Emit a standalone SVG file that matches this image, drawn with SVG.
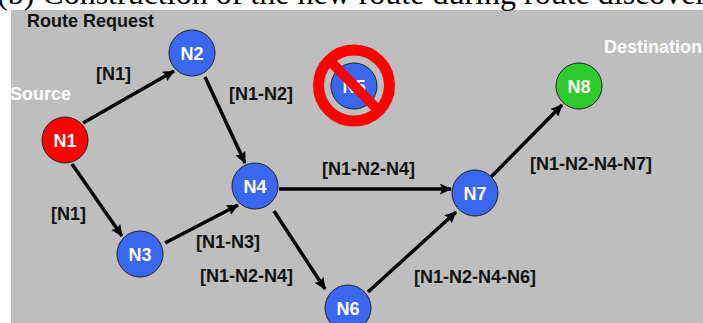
<svg xmlns="http://www.w3.org/2000/svg" width="703" height="323" viewBox="0 0 703 323">
<style>
.t{font-family:"Liberation Sans",Arial,sans-serif;font-size:18px;font-weight:bold;fill:#111}
.w{fill:#fff}
.n{font-family:"Liberation Sans",Arial,sans-serif;font-size:18px;font-weight:bold;fill:#fff;text-anchor:middle}
.c{stroke:#222;stroke-width:1}
.e{stroke:#000;stroke-width:3.5;fill:none;marker-end:url(#a)}
</style>
<defs><marker id="a" markerUnits="userSpaceOnUse" markerWidth="12" markerHeight="11" refX="11" refY="5.5" orient="auto"><path d="M0 0L12 5.5L0 11L2 5.5Z" fill="#000"/></marker></defs>
<rect width="703" height="323" fill="#fff"/>
<rect x="11" y="10" width="692" height="313" fill="#bebebe"/>
<text x="-3" y="4" font-family="Liberation Serif,serif" font-size="32" fill="#000">(b) Construction of the new route during route discovery</text>
<g id="connectors">
<line class="e" x1="83" y1="123" x2="174" y2="71"/>
<line class="e" x1="205" y1="77" x2="245" y2="163"/>
<line class="e" x1="72" y1="164" x2="122" y2="236"/>
<line class="e" x1="165" y1="243" x2="238" y2="205"/>
<line class="e" x1="279" y1="189" x2="451" y2="189"/>
<line class="e" x1="274" y1="211" x2="325" y2="289"/>
<line class="e" x1="368" y1="292" x2="456" y2="212"/>
<line class="e" x1="491" y1="177" x2="562" y2="105"/>
</g>
<g id="N1"><circle class="c" cx="65" cy="140" r="23" fill="#f00"/><text class="n" x="65" y="147">N1</text></g>
<g id="N2"><circle class="c" cx="192" cy="53" r="23" fill="#3b66f0"/><text class="n" x="192" y="60">N2</text></g>
<g id="N3"><circle class="c" cx="140" cy="254" r="23" fill="#3b66f0"/><text class="n" x="140" y="261">N3</text></g>
<g id="N4"><circle class="c" cx="255" cy="186" r="23" fill="#3b66f0"/><text class="n" x="255" y="193">N4</text></g>
<g id="N5"><circle class="c" cx="354" cy="86" r="23" fill="#3b66f0"/><text class="n" x="354" y="93">N5</text>
<circle cx="354" cy="85.5" r="35.5" fill="none" stroke="#f00" stroke-width="11"/><line x1="329" y1="60" x2="379" y2="111" stroke="#f00" stroke-width="10"/></g>
<g id="N6"><circle class="c" cx="348" cy="308" r="23" fill="#3b66f0"/><text class="n" x="348" y="315">N6</text></g>
<g id="N7"><circle class="c" cx="475" cy="193" r="23" fill="#3b66f0"/><text class="n" x="475" y="200">N7</text></g>
<g id="N8"><circle class="c" cx="579" cy="86" r="23" fill="#2ecb2e"/><text class="n" x="579" y="93">N8</text></g>
<g id="labels">
<text class="t" x="27" y="27">Route Request</text>
<text class="t w" x="10" y="100">Source</text>
<text class="t w" x="604" y="53">Destination</text>
<text class="t" x="96" y="80">[N1]</text>
<text class="t" x="229" y="100">[N1-N2]</text>
<text class="t" x="51" y="220">[N1]</text>
<text class="t" x="196" y="248">[N1-N3]</text>
<text class="t" x="200" y="282">[N1-N2-N4]</text>
<text class="t" x="322" y="175">[N1-N2-N4]</text>
<text class="t" x="414" y="283">[N1-N2-N4-N6]</text>
<text class="t" x="530" y="170">[N1-N2-N4-N7]</text>
</g>
</svg>
